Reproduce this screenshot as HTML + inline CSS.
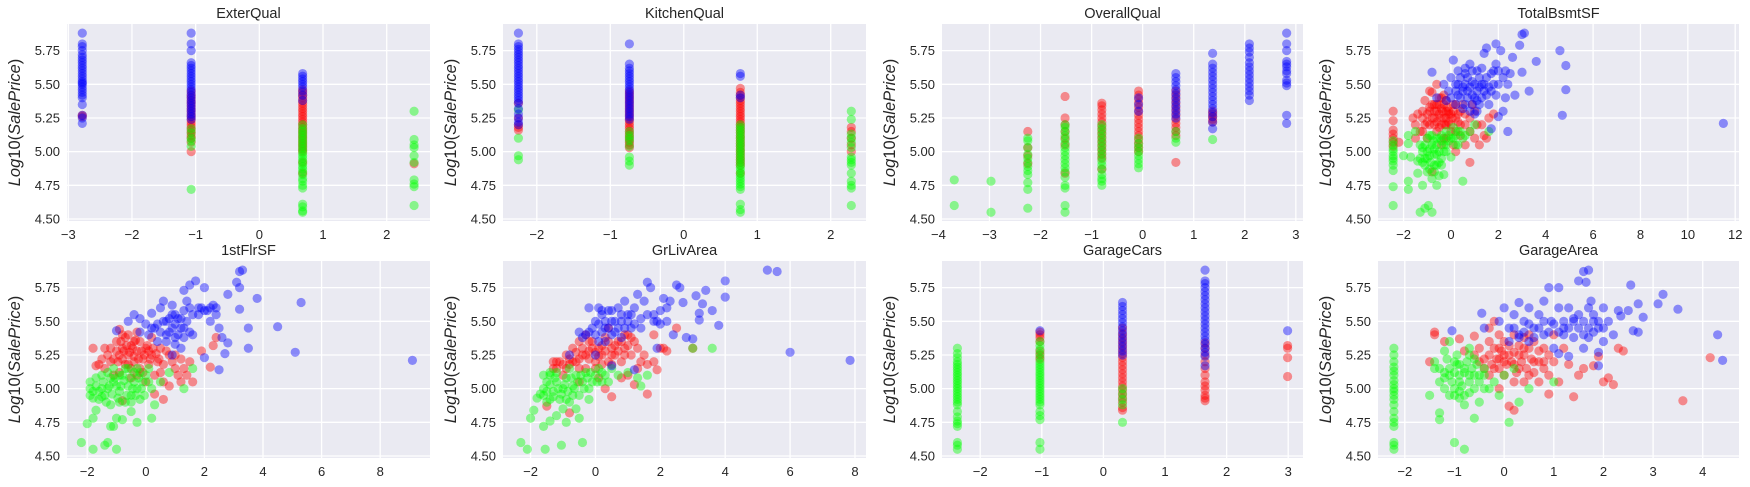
<!DOCTYPE html>
<html><head><meta charset="utf-8">
<style>
html,body{margin:0;padding:0;background:#fff;}
svg{display:block;font-family:"Liberation Sans","DejaVu Sans",sans-serif;}
</style></head>
<body>
<svg id="fig" width="1750" height="487" viewBox="0 0 1750 487" xmlns="http://www.w3.org/2000/svg"></svg>
<script>
// ---------- DATA ----------
const titles = ["ExterQual","KitchenQual","OverallQual","TotalBsmtSF","1stFlrSF","GrLivArea","GarageCars","GarageArea"];
const yTicks = [4.50,4.75,5.00,5.25,5.50,5.75];
const xTicks1 = [-3,-2,-1,0,1,2];
const xTicks2 = [-2,-1,0,1,2];
const xTicks3 = [-4,-3,-2,-1,0,1,2,3];
const xTicks4 = [-2,0,2,4,6,8,10,12];
const xTicks5 = [-2,0,2,4,6,8];
const xTicks6 = [-2,0,2,4,6,8];
const xTicks7 = [-2,-1,0,1,2,3];
const xTicks8 = [-2,-1,0,1,2,3,4];

// categorical panels: [x, [y values]]
const exterRed = [[-2.78,[5.26,5.27]],[-1.07,[5.00,5.07,5.10,5.12,5.14,5.16,5.18,5.20,5.22,5.24,5.26,5.28,5.30,5.32,5.34,5.36,5.38,5.40,5.42,5.45]],[0.68,[4.84,4.92,5.00,5.02,5.04,5.06,5.08,5.10,5.12,5.14,5.16,5.18,5.20,5.22,5.24,5.26,5.28,5.30,5.32,5.34,5.36,5.38,5.40,5.42,5.44,5.46]],[2.43,[4.91]]];
const exterGreen = [[-1.07,[4.72,5.04,5.08,5.10,5.14,5.17]],[0.68,[4.55,4.56,4.59,4.61,4.73,4.75,4.78,4.80,4.83,4.85,4.87,4.89,4.91,4.93,4.95,4.97,4.99,5.01,5.03,5.05,5.07,5.09,5.11,5.13,5.15,5.17,5.20]],[2.43,[4.60,4.74,4.76,4.79,4.92,4.97,5.03,5.05,5.09,5.30]]];
const exterBlue = [[-2.78,[5.21,5.25,5.27,5.35,5.40,5.42,5.44,5.46,5.48,5.50,5.51,5.52,5.54,5.56,5.58,5.60,5.62,5.64,5.66,5.68,5.70,5.72,5.75,5.78,5.80,5.88]],[-1.07,[5.24,5.26,5.28,5.30,5.32,5.34,5.36,5.38,5.40,5.42,5.44,5.46,5.48,5.50,5.52,5.54,5.56,5.58,5.60,5.62,5.64,5.66,5.75,5.80,5.88]],[0.68,[5.38,5.42,5.45,5.48,5.50,5.52,5.54,5.56,5.58]]];

const kitchenRed = [[-2.25,[5.16,5.18,5.20,5.25,5.36]],[-0.74,[5.03,5.05,5.07,5.09,5.11,5.13,5.15,5.17,5.19,5.21,5.23,5.25,5.27,5.29,5.31,5.33,5.35,5.37,5.39,5.41,5.43,5.45]],[0.77,[4.84,4.90,4.92,4.94,4.96,4.98,5.00,5.02,5.04,5.06,5.08,5.10,5.12,5.14,5.16,5.18,5.20,5.22,5.24,5.26,5.28,5.30,5.32,5.34,5.36,5.38,5.40,5.42,5.44,5.47]],[2.28,[5.00,5.05,5.10,5.15,5.18]]];
const kitchenGreen = [[-2.25,[4.94,4.97,5.10,5.31]],[-0.74,[4.90,4.93,4.96,5.04,5.08,5.10,5.12,5.15]],[0.77,[4.55,4.57,4.61,4.72,4.74,4.76,4.78,4.80,4.82,4.84,4.86,4.88,4.90,4.92,4.94,4.96,4.98,5.00,5.02,5.04,5.06,5.08,5.10,5.12,5.14,5.16,5.18,5.20]],[2.28,[4.60,4.73,4.75,4.78,4.84,4.90,4.92,4.94,4.96,5.03,5.07,5.10,5.13,5.24,5.30]]];
const kitchenBlue = [[-2.25,[5.20,5.22,5.25,5.28,5.32,5.36,5.38,5.40,5.42,5.44,5.46,5.48,5.50,5.52,5.54,5.56,5.58,5.60,5.62,5.64,5.66,5.68,5.70,5.72,5.74,5.76,5.78,5.80,5.88]],[-0.74,[5.24,5.26,5.28,5.30,5.32,5.34,5.36,5.38,5.40,5.42,5.44,5.46,5.48,5.50,5.52,5.54,5.56,5.58,5.60,5.62,5.65,5.80]],[0.77,[5.40,5.42,5.56,5.58]]];

const overallRed = [[-2.25,[4.91,4.97,5.03,5.15]],[-1.52,[4.84,5.05,5.10,5.15,5.20,5.25,5.41]],[-0.80,[4.87,4.95,4.98,5.01,5.04,5.07,5.10,5.13,5.16,5.19,5.22,5.25,5.28,5.31,5.34,5.36]],[-0.08,[5.00,5.03,5.06,5.09,5.12,5.15,5.18,5.21,5.24,5.27,5.30,5.33,5.36,5.39,5.42,5.45]],[0.65,[4.92,5.12,5.15,5.18,5.21,5.24,5.27,5.30,5.33,5.36,5.39,5.42,5.45]],[1.37,[5.22,5.24,5.26,5.28,5.30]]];
const overallGreen = [[-3.69,[4.60,4.79]],[-2.97,[4.55,4.78]],[-2.25,[4.58,4.72,4.77,4.83,4.86,4.89,4.92,4.95,4.98,5.03,5.08,5.10]],[-1.52,[4.55,4.60,4.73,4.75,4.81,4.85,4.88,4.91,4.94,4.97,5.00,5.03,5.06,5.09,5.12,5.15,5.18,5.20]],[-0.80,[4.75,4.78,4.80,4.83,4.87,4.90,4.93,4.96,4.99,5.02,5.05,5.08,5.11,5.14,5.17,5.20]],[-0.08,[4.88,4.91,4.94,4.97,5.00,5.03,5.06,5.10]],[0.65,[5.07,5.10,5.15]],[1.37,[5.09]]];
const overallBlue = [[-0.08,[5.30,5.35,5.40]],[0.65,[5.25,5.28,5.31,5.34,5.37,5.40,5.43,5.46,5.49,5.52,5.55,5.58]],[1.37,[5.17,5.22,5.26,5.29,5.32,5.35,5.38,5.41,5.44,5.47,5.50,5.53,5.56,5.59,5.62,5.65,5.73]],[2.09,[5.38,5.42,5.45,5.48,5.51,5.54,5.57,5.60,5.63,5.66,5.70,5.74,5.77,5.80]],[2.82,[5.21,5.27,5.49,5.51,5.53,5.58,5.60,5.63,5.65,5.67,5.75,5.80,5.88]]];

const carsRed = [[-1.03,[5.22,5.25,5.28,5.35,5.38,5.40,5.42]],[0.31,[4.84,4.86,4.90,4.93,4.96,4.99,5.02,5.05,5.08,5.11,5.14,5.17,5.20,5.23,5.26,5.29,5.32,5.35,5.38,5.41,5.45]],[1.65,[4.91,4.93,4.95,4.99,5.02,5.05,5.10,5.15,5.20,5.25,5.30,5.34]],[2.99,[5.09,5.23,5.30,5.32]]];
const carsGreen = [[-2.37,[4.55,4.58,4.60,4.72,4.74,4.76,4.79,4.83,4.88,4.90,4.92,4.94,4.96,4.98,5.00,5.02,5.04,5.06,5.08,5.10,5.12,5.14,5.16,5.18,5.20,5.23,5.26,5.30]],[-1.03,[4.55,4.60,4.77,4.80,4.83,4.88,4.90,4.92,4.94,4.96,4.98,5.00,5.02,5.04,5.06,5.08,5.10,5.12,5.14,5.16,5.18,5.20,5.23,5.26,5.29,5.32,5.35]],[0.31,[4.75,4.88,4.92,4.96,5.00]]];
const carsBlue = [[-1.03,[5.43]],[0.31,[5.25,5.28,5.31,5.34,5.37,5.40,5.43,5.46,5.49,5.52,5.55,5.58,5.61,5.64]],[1.65,[5.17,5.24,5.27,5.30,5.33,5.36,5.39,5.42,5.45,5.48,5.51,5.54,5.57,5.60,5.63,5.66,5.69,5.72,5.75,5.78,5.80,5.88]],[2.99,[5.43]]];

// scatter panels: [x, y]
const bsmtRed = [[-2.44,5.04],[-2.44,5.07],[-2.44,5.10],[-2.44,5.13],[-2.44,5.16],[-2.44,5.23],[-2.44,5.30],[-2.2,5.07],[-1.6,5.25],[-1.5,5.20],[-1.4,5.28],[-1.2,5.3],[-1.1,5.38],[-1.0,5.22],[-0.9,5.3],[-0.8,5.44],[-0.7,5.35],[-0.6,5.5],[-0.5,5.28],[-0.4,5.32],[-0.3,5.25],[-0.2,5.3],[-0.1,5.22],[0,5.28],[0.2,5.25],[0.4,5.3],[0.6,5.2],[0.8,5.15],[1.0,5.1],[1.2,5.05],[1.4,5.12],[1.6,5.25],[1.8,5.28],[0.8,4.92],[-0.8,4.85],[0.2,5.0],[-0.6,5.15],[-0.3,5.1],[0,5.15],[-1.0,5.1],[-1.3,5.15],[-0.9,5.2],[-0.5,5.4],[-0.2,5.38],[0.1,5.35],[0.4,5.12],[0.6,5.05],[1.5,5.1],[-0.7,5.25],[-0.4,5.2],[-0.1,5.3],[0.3,5.22],[-1.2,5.25],[-0.6,5.3],[-0.2,5.2],[1.1,5.2],[0.5,5.35]];
const bsmtRedCore = [[-1.0,5.28],[-0.9,5.33],[-0.8,5.25],[-0.7,5.3],[-0.6,5.22],[-0.5,5.35],[-0.45,5.25],[-0.4,5.4],[-0.35,5.3],[-0.3,5.35],[-0.25,5.2],[-0.2,5.25],[-0.15,5.33],[-0.1,5.28],[0,5.2],[0.05,5.25],[0.1,5.3],[0.2,5.35],[0.3,5.28],[0.4,5.2],[-0.6,5.35],[-0.5,5.18],[-0.7,5.2],[-0.8,5.35],[-0.3,5.42],[0.2,5.15],[0.6,5.28],[0.8,5.25],[1.0,5.3],[-1.1,5.2],[-1.2,5.15],[-1.5,5.1],[-0.2,5.1],[0.1,5.05],[-0.4,5.05],[1.3,5.2],[0.9,5.35],[-0.9,5.45]];
const bsmtGreen = [[-2.44,4.60],[-2.44,4.74],[-2.44,4.86],[-2.44,4.90],[-2.44,4.93],[-2.44,4.95],[-2.44,4.97],[-2.44,5.00],[-2.44,5.02],[-2.44,5.05],[-2.44,5.08],[-2,4.97],[-1.8,4.78],[-1.8,4.72],[-1.7,4.96],[-1.8,5.06],[-1.8,5.12],[-1.5,5.15],[-1.4,4.84],[-1.3,4.55],[-1.2,4.75],[-1.1,4.58],[-0.95,4.6],[-0.8,4.55],[-1.2,4.92],[-1.1,4.95],[-1.0,5.0],[-0.9,4.97],[-0.8,5.05],[-0.7,5.02],[-0.6,4.98],[-0.5,4.92],[-0.4,4.95],[-0.3,5.0],[-0.2,5.05],[-0.1,5.08],[0,5.1],[0.2,5.12],[0.4,5.15],[0.6,5.12],[1.6,5.15],[0.5,4.78],[-0.6,4.75],[-0.5,4.82],[-0.3,4.83],[-1.3,5.05],[-1.0,5.1],[-0.8,5.12],[-0.6,5.1],[-0.4,5.08],[-0.2,5.15],[0.1,5.18],[-1.4,4.93],[-1.2,5.03],[-0.9,4.87],[-0.7,4.9],[-0.4,5.12],[0.3,5.05],[0.0,4.96],[-0.8,4.8],[-1.0,4.85]];
const bsmtGreenCore = [[-1.2,5.0],[-1.1,5.05],[-1.0,4.95],[-0.9,5.02],[-0.85,4.92],[-0.75,5.08],[-0.7,4.98],[-0.6,5.05],[-0.5,5.0],[-0.45,5.1],[-0.3,5.05],[-0.2,5.0],[-0.1,5.12],[0.1,5.1],[0.2,5.05],[-0.6,4.9],[-0.9,5.12],[-1.1,4.9],[-0.4,4.9],[0.3,5.15],[0.5,5.1],[0.8,5.15],[1.0,5.2],[-0.7,4.85],[-1.3,4.95]];
const bsmtBlue = [[-0.8,5.59],[-0.6,5.4],[-0.3,5.5],[-0.1,5.45],[0.1,5.68],[0,5.55],[0.2,5.5],[0.3,5.42],[0.4,5.55],[0.5,5.48],[0.6,5.58],[0.7,5.45],[0.8,5.65],[0.9,5.52],[1.0,5.4],[1.1,5.6],[1.2,5.48],[1.3,5.62],[1.4,5.45],[1.5,5.55],[1.6,5.35],[1.7,5.58],[1.8,5.5],[1.9,5.42],[2.0,5.6],[2.1,5.75],[2.2,5.55],[2.3,5.4],[2.5,5.58],[2.6,5.7],[2.7,5.42],[2.9,5.79],[3.0,5.87],[3.1,5.88],[3.0,5.59],[3.3,5.45],[3.6,5.67],[4.6,5.75],[4.7,5.27],[4.85,5.64],[4.85,5.46],[11.5,5.21],[2.4,5.15],[1.9,5.8],[1.4,5.73],[1.5,5.77],[0.8,5.3],[1.0,5.28],[0.5,5.32],[1.2,5.35],[1.7,5.17],[2.0,5.26],[0.3,5.6],[0.6,5.35],[1.1,5.38],[2.2,5.3],[2.4,5.5],[0.9,5.6]];
const bsmtBlueCore = [[0.3,5.5],[0.5,5.45],[0.6,5.5],[0.7,5.4],[0.8,5.48],[0.9,5.42],[1.0,5.5],[1.1,5.45],[1.2,5.55],[1.3,5.4],[1.4,5.5],[1.5,5.42],[1.6,5.48],[1.7,5.45],[1.1,5.3],[0.4,5.4],[0.2,5.45],[0,5.4],[0.9,5.35],[1.3,5.5],[0.7,5.55],[1.8,5.6],[2.0,5.5],[2.3,5.6],[1.9,5.65],[0.6,5.62],[-0.2,5.38],[0.2,5.35]];

const flrRed = [[-1.8,5.3],[-1.7,5.17],[-1.4,5.3],[-1.2,5.2],[-1.0,5.35],[-0.9,5.44],[-0.8,5.3],[-0.7,5.38],[-0.6,5.25],[-0.5,5.32],[-0.4,5.2],[-0.3,5.28],[-0.2,5.35],[-0.1,5.22],[0,5.3],[0.1,5.18],[0.2,5.25],[0.4,5.2],[0.5,5.12],[0.7,5.28],[0.9,5.2],[1.1,5.1],[1.3,5.15],[1.5,5.2],[1.6,5.05],[1.9,5.28],[2.2,5.16],[2.3,5.32],[2.4,5.38],[0.3,4.96],[0.6,4.92],[-0.8,4.91],[0,5.05],[-0.5,5.15],[-1.1,5.1],[-0.3,5.1],[0.8,5.02],[1.2,5.05],[-0.6,5.4],[-0.2,5.15],[0.2,5.38],[-1.5,5.22],[-0.9,5.25],[0.5,5.3],[1.0,5.25],[-0.4,5.35],[0.1,5.28],[-0.7,5.18]];
const flrRedCore = [[-1.3,5.25],[-1.2,5.3],[-1.1,5.22],[-1.0,5.28],[-0.95,5.2],[-0.85,5.35],[-0.8,5.22],[-0.75,5.28],[-0.65,5.32],[-0.6,5.18],[-0.55,5.27],[-0.45,5.3],[-0.4,5.24],[-0.35,5.36],[-0.25,5.22],[-0.15,5.28],[-0.05,5.25],[0.05,5.32],[0.15,5.22],[0.25,5.3],[0.35,5.26],[0.45,5.22],[0.6,5.18],[0.8,5.25],[1.0,5.15],[1.2,5.22],[1.4,5.1],[-1.6,5.18],[-1.4,5.15],[-0.9,5.12],[-0.5,5.08],[-0.1,5.12],[0.3,5.1],[0.6,5.05],[-0.3,5.42],[-0.8,5.4]];
const flrGreen = [[-2.2,4.6],[-2.0,4.74],[-1.8,4.78],[-1.8,4.55],[-1.4,4.58],[-1.3,4.6],[-1.2,4.72],[-1.1,4.72],[-1.0,4.55],[-1.7,4.84],[-1.9,4.95],[-1.9,5.0],[-1.9,5.05],[-1.8,4.98],[-1.7,5.02],[-1.6,4.92],[-1.5,5.1],[-1.4,4.95],[-1.3,5.0],[-1.2,4.88],[-1.1,5.05],[-1.0,4.78],[-0.9,4.98],[-0.8,5.1],[-0.7,4.9],[-0.6,5.02],[-0.5,4.95],[-0.4,5.12],[-0.3,5.0],[-0.2,4.92],[-0.1,5.05],[0,5.1],[0.2,5.0],[0.3,4.88],[0.2,4.78],[0.5,5.05],[0.8,5.12],[1.3,5.0],[1.6,5.15],[-0.5,4.83],[-0.8,4.77],[-0.3,4.75],[-1.5,5.0],[-1.2,5.08],[-0.9,5.1],[-0.6,5.15],[-0.3,5.15],[0.1,5.15],[-1.0,5.02],[-0.4,5.05]];
const flrGreenCore = [[-1.8,4.93],[-1.7,5.08],[-1.6,4.98],[-1.5,4.94],[-1.45,5.05],[-1.35,4.9],[-1.25,5.02],[-1.15,4.96],[-1.05,5.08],[-0.95,4.93],[-0.85,5.02],[-0.75,5.06],[-0.65,4.95],[-0.55,5.08],[-0.45,5.0],[-0.35,4.95],[-0.25,5.08],[-0.15,5.0],[-0.05,4.95],[0.1,5.05],[-1.1,5.15],[-0.7,5.15],[-0.2,5.12],[-1.3,5.12],[-0.9,4.9],[-0.5,4.9]];
const flrBlue = [[-1.0,5.43],[-0.6,5.5],[-0.4,5.55],[-0.2,5.52],[0,5.48],[0.2,5.56],[0.3,5.45],[0.5,5.6],[0.6,5.65],[0.7,5.5],[0.8,5.42],[0.9,5.62],[1.0,5.38],[1.1,5.52],[1.2,5.45],[1.3,5.58],[1.4,5.65],[1.5,5.77],[1.3,5.73],[1.7,5.8],[1.8,5.55],[1.9,5.6],[2.0,5.75],[2.1,5.58],[2.2,5.5],[2.3,5.62],[2.5,5.45],[2.6,5.38],[2.7,5.26],[2.8,5.34],[2.8,5.7],[3.1,5.79],[3.2,5.59],[3.2,5.75],[3.2,5.87],[3.3,5.88],[3.5,5.45],[3.5,5.3],[3.8,5.67],[4.5,5.46],[5.1,5.27],[5.3,5.64],[9.1,5.21],[2.5,5.14],[2.0,5.23],[1.2,5.3],[0.9,5.25],[0.4,5.35],[1.6,5.4],[2.4,5.6],[0.1,5.4],[1.0,5.55]];
const flrBlueCore = [[0.4,5.48],[0.5,5.42],[0.6,5.5],[0.7,5.4],[0.8,5.52],[0.9,5.45],[1.0,5.48],[1.1,5.4],[1.2,5.52],[1.3,5.45],[1.4,5.5],[1.5,5.42],[1.6,5.55],[0.7,5.35],[1.0,5.33],[1.3,5.38],[-0.2,5.42],[0.2,5.45],[1.8,5.6],[2.0,5.58],[2.2,5.6],[2.4,5.55],[1.5,5.6],[0.9,5.55]];

const livRed = [[-1.5,4.87],[-1.3,5.15],[-1.2,5.2],[-1.0,5.1],[-0.9,5.25],[-0.8,5.18],[-0.7,5.3],[-0.6,5.2],[-0.5,5.35],[-0.4,5.25],[-0.3,5.15],[-0.2,5.28],[-0.1,5.35],[0,5.2],[0.1,5.3],[0.2,5.25],[0.3,5.38],[0.4,5.2],[0.5,5.3],[0.6,5.25],[0.7,5.35],[0.8,5.2],[0.9,5.3],[1.0,5.4],[1.1,5.25],[1.2,5.35],[1.3,5.15],[1.4,5.2],[1.5,5.25],[1.6,5.18],[1.8,5.2],[1.9,5.14],[2.0,5.3],[2.2,5.28],[2.5,5.45],[1.2,5.03],[1.6,4.96],[0.5,4.94],[0.3,5.0],[-0.8,4.82],[-0.5,5.05],[0.1,5.08],[0.8,5.08],[1.8,5.4],[2.1,5.3],[3.0,5.3],[-0.3,5.4],[0.4,5.45],[1.0,5.1]];
const livRedCore = [[-1.2,5.15],[-1.1,5.2],[-1.0,5.18],[-0.9,5.15],[-0.8,5.22],[-0.7,5.2],[-0.6,5.27],[-0.5,5.22],[-0.4,5.3],[-0.3,5.25],[-0.2,5.22],[-0.1,5.3],[0,5.27],[0.1,5.24],[0.2,5.32],[0.3,5.28],[0.4,5.35],[0.5,5.25],[0.6,5.32],[0.7,5.28],[0.8,5.35],[0.9,5.25],[1.0,5.32],[1.1,5.38],[0.2,5.18],[0.5,5.18],[-0.5,5.15],[-0.2,5.35],[0.9,5.4],[1.3,5.3],[-1.3,5.2],[0.0,5.15]];
const livGreen = [[-2.3,4.6],[-2.1,4.55],[-2.0,4.78],[-1.9,4.84],[-1.6,4.72],[-1.55,4.55],[-1.4,4.76],[-1.2,4.8],[-1.05,4.58],[-0.9,4.75],[-0.4,4.6],[-0.5,4.78],[-1.8,4.93],[-1.7,4.96],[-1.6,5.0],[-1.5,5.05],[-1.5,4.9],[-1.4,5.1],[-1.3,4.98],[-1.2,5.05],[-1.1,4.92],[-1.0,5.0],[-0.9,5.08],[-0.8,4.9],[-0.7,5.02],[-0.6,5.1],[-0.5,4.95],[-0.4,5.05],[-0.3,5.12],[-0.2,4.92],[-0.1,5.05],[0,5.1],[0.1,5.15],[0.2,5.05],[0.3,5.1],[0.5,5.15],[0.7,5.1],[1.0,5.12],[1.3,5.08],[1.4,5.02],[1.6,5.1],[3.0,5.3],[3.6,5.3],[-1.4,5.12],[-0.8,5.15],[-1.0,4.85],[-0.6,4.85],[-0.2,5.0],[0.4,5.05],[-1.6,5.1]];
const livGreenCore = [[-1.5,4.98],[-1.4,5.03],[-1.3,4.94],[-1.25,5.08],[-1.15,5.0],[-1.05,4.96],[-0.95,5.03],[-0.85,4.98],[-0.75,5.08],[-0.65,5.0],[-0.55,5.05],[-0.45,5.1],[-0.35,5.0],[-0.25,5.08],[-0.15,5.12],[0.05,5.05],[0.2,5.12],[-1.2,5.12],[-0.9,4.92],[-0.7,4.95],[-1.6,4.95],[-1.4,4.92]];
const livBlue = [[-0.2,5.6],[-0.3,5.4],[-0.1,5.45],[0,5.5],[0.1,5.6],[0.2,5.55],[0.3,5.45],[0.4,5.58],[0.5,5.5],[0.6,5.42],[0.7,5.6],[0.8,5.5],[0.9,5.65],[1.0,5.55],[1.1,5.45],[1.2,5.6],[1.3,5.7],[1.4,5.52],[1.5,5.65],[1.6,5.79],[1.7,5.75],[1.8,5.55],[1.9,5.5],[2.0,5.48],[2.1,5.67],[2.2,5.6],[2.3,5.65],[2.4,5.4],[2.5,5.77],[2.6,5.75],[2.7,5.64],[2.8,5.38],[3.0,5.37],[3.1,5.69],[3.2,5.56],[3.2,5.51],[3.3,5.63],[3.4,5.73],[3.6,5.58],[3.8,5.47],[4.0,5.68],[4.0,5.8],[5.3,5.88],[5.6,5.87],[6.0,5.27],[7.85,5.21],[1.2,5.14],[0.5,5.17],[1.9,5.3],[0,5.25],[-0.8,5.25],[0.8,5.38],[0.3,5.35]];
const livBlueCore = [[-0.4,5.38],[-0.2,5.42],[0,5.4],[0.1,5.48],[0.2,5.42],[0.3,5.5],[0.4,5.45],[0.5,5.4],[0.6,5.5],[0.7,5.45],[0.8,5.55],[0.9,5.45],[1.0,5.5],[1.1,5.55],[1.2,5.48],[1.4,5.45],[1.6,5.55],[1.8,5.5],[0.2,5.58],[0.5,5.58],[0.1,5.35],[-0.5,5.42],[2.0,5.58],[2.2,5.5]];

const garRed = [[-1.4,5.4],[-1.4,5.42],[-1.5,5.2],[-1.2,5.35],[-0.9,5.37],[-0.8,5.28],[-0.6,5.39],[-0.5,5.3],[-0.4,5.22],[-0.3,5.45],[-0.2,5.5],[-0.1,5.3],[0,5.2],[0.1,5.25],[0.2,5.4],[0.3,5.15],[0.4,5.3],[0.5,5.1],[0.6,5.35],[0.7,5.2],[0.8,5.3],[0.9,5.1],[1.0,5.4],[1.1,5.05],[1.2,5.3],[1.3,5.18],[1.5,5.1],[1.6,5.15],[1.8,5.17],[1.9,5.24],[2.0,5.05],[2.1,5.08],[2.2,5.03],[2.3,5.3],[2.4,5.28],[3.6,4.91],[4.15,5.23],[1.4,4.94],[0.9,4.96],[0.2,4.84],[0.1,4.87],[-0.1,5.0],[0.4,5.05],[-0.2,5.15],[0,5.35],[0.3,5.25],[-0.3,5.1],[0.6,5.2],[0.2,5.18],[-0.1,5.22],[0.5,5.4],[0.8,5.2]];
const garRedCore = [[-0.4,5.15],[-0.3,5.25],[-0.25,5.18],[-0.2,5.3],[-0.15,5.22],[-0.1,5.15],[-0.05,5.28],[0,5.25],[0.05,5.18],[0.1,5.32],[0.15,5.2],[0.2,5.27],[0.25,5.12],[0.3,5.32],[0.35,5.2],[0.4,5.25],[0.45,5.15],[0.5,5.3],[0.55,5.22],[0.6,5.12],[0.7,5.28],[0.8,5.15],[0.9,5.25],[-0.5,5.2],[-0.3,5.35],[0,5.1],[0.2,5.05],[0.4,5.38],[-0.1,5.4],[0.7,5.05],[1.0,5.2],[-0.6,5.25]];
const garGreen = [[-2.22,4.55],[-2.22,4.58],[-2.22,4.6],[-2.22,4.72],[-2.22,4.75],[-2.22,4.78],[-2.22,4.83],[-2.22,4.88],[-2.22,4.92],[-2.22,4.95],[-2.22,4.98],[-2.22,5.0],[-2.22,5.03],[-2.22,5.06],[-2.22,5.1],[-2.22,5.13],[-2.22,5.16],[-2.22,5.2],[-2.22,5.25],[-2.22,5.3],[-1.5,4.95],[-1.4,5.15],[-1.3,4.82],[-1.3,4.77],[-1.2,5.28],[-1.1,5.35],[-1.2,5.0],[-1.1,5.1],[-1.0,4.6],[-1.0,5.2],[-0.9,5.05],[-0.9,4.93],[-0.8,4.55],[-0.8,5.15],[-0.7,5.1],[-0.7,5.3],[-0.6,4.78],[-0.6,5.0],[-0.5,4.9],[-0.5,5.1],[-0.4,5.15],[-0.3,5.0],[-0.2,5.05],[-0.1,4.95],[0,5.1],[0.1,4.75],[0.2,5.15],[0.3,4.9],[0.5,5.0],[1.0,5.05],[-1.4,5.2],[-1.2,5.12],[-1.0,5.0],[-0.8,4.88],[-0.6,5.22],[-1.1,4.95],[-0.9,5.18],[-0.4,5.0],[-0.7,4.97],[-1.3,5.05]];
const garGreenCore = [[-1.2,5.08],[-1.1,5.15],[-1.05,5.05],[-1.0,5.12],[-0.95,5.18],[-0.9,5.1],[-0.85,5.02],[-0.8,5.12],[-0.75,5.2],[-0.7,5.05],[-0.65,5.15],[-0.6,5.1],[-0.55,5.18],[-0.5,5.05],[-0.9,4.98],[-1.0,4.95],[-0.8,4.95],[-1.15,5.22],[-0.7,5.25],[-0.4,5.1],[-1.3,5.15],[-0.95,5.25]];
const garBlue = [[-1.05,5.43],[-0.45,5.56],[-0.4,5.45],[-0.1,5.5],[0,5.6],[0.1,5.45],[0.2,5.55],[0.3,5.64],[0.4,5.5],[0.5,5.6],[0.6,5.45],[0.7,5.55],[0.8,5.65],[0.9,5.75],[0.95,5.5],[1.1,5.6],[1.1,5.75],[1.2,5.45],[1.3,5.6],[1.4,5.5],[1.5,5.55],[1.5,5.8],[1.6,5.87],[1.65,5.79],[1.7,5.88],[1.75,5.65],[1.8,5.5],[1.9,5.45],[2.0,5.6],[2.1,5.5],[2.2,5.4],[2.3,5.58],[2.35,5.54],[2.5,5.58],[2.55,5.77],[2.6,5.43],[2.7,5.63],[2.7,5.42],[2.8,5.53],[3.1,5.63],[3.2,5.7],[3.5,5.59],[4.3,5.4],[4.4,5.21],[1.9,5.17],[1.9,5.27],[1.3,5.24],[1.1,5.26],[1.4,5.38],[1.7,5.38],[1.2,5.4],[0.3,5.4],[1.0,5.3],[0.8,5.4],[1.6,5.3],[2.0,5.35]];
const garBlueCore = [[0.2,5.45],[0.3,5.38],[0.4,5.42],[0.5,5.48],[0.6,5.38],[0.7,5.45],[0.8,5.5],[0.9,5.42],[1.0,5.48],[1.1,5.42],[1.2,5.5],[1.3,5.45],[1.4,5.52],[1.5,5.45],[1.6,5.5],[1.7,5.45],[1.8,5.55],[1.9,5.5],[1.6,5.4],[1.8,5.42],[0.5,5.35],[0.1,5.35],[1.7,5.6],[2.0,5.45]];

// ---------- LAYOUT ----------
const NS = "http://www.w3.org/2000/svg";
const svg = document.getElementById('fig');
const yMin = 4.485, yMax = 5.948;
const panels = [
  {left:67,  top:24,  w:363, h:197, xMin:-3.02, xMax:2.68,  ticks:xTicks1, cat:true,  red:exterRed, green:exterGreen, blue:exterBlue},
  {left:503, top:24,  w:363, h:197, xMin:-2.46, xMax:2.48,  ticks:xTicks2, cat:true, red:kitchenRed, green:kitchenGreen, blue:kitchenBlue},
  {left:942, top:24,  w:361, h:197, xMin:-3.93, xMax:3.14,  ticks:xTicks3, cat:true, red:overallRed, green:overallGreen, blue:overallBlue},
  {left:1378,top:24,  w:361, h:197, xMin:-3.08, xMax:12.16, ticks:xTicks4, cat:false, red:bsmtRed.concat(bsmtRedCore), green:bsmtGreen.concat(bsmtGreenCore), blue:bsmtBlue.concat(bsmtBlueCore)},
  {left:67,  top:261, w:363, h:197, xMin:-2.69, xMax:9.70,  ticks:xTicks5, cat:false, red:flrRed.concat(flrRedCore), green:flrGreen.concat(flrGreenCore), blue:flrBlue.concat(flrBlueCore)},
  {left:503, top:261, w:363, h:197, xMin:-2.85, xMax:8.34,  ticks:xTicks6, cat:false, red:livRed.concat(livRedCore), green:livGreen.concat(livGreenCore), blue:livBlue.concat(livBlueCore)},
  {left:942, top:261, w:361, h:197, xMin:-2.62, xMax:3.24,  ticks:xTicks7, cat:true, red:carsRed, green:carsGreen, blue:carsBlue},
  {left:1378,top:261, w:361, h:197, xMin:-2.54, xMax:4.73,  ticks:xTicks8, cat:false, red:garRed.concat(garRedCore), green:garGreen.concat(garGreenCore), blue:garBlue.concat(garBlueCore)}
];
const colors = {red:'#ff0000', green:'#00ff00', blue:'#0000ff'};

function mk(tag, attrs, parent){
  const e = document.createElementNS(NS, tag);
  for (const k in attrs) e.setAttribute(k, attrs[k]);
  (parent||svg).appendChild(e);
  return e;
}
function fmtX(v){ return v < 0 ? '\u2212' + Math.abs(v) : String(v); }

panels.forEach((p, i) => {
  const xs = v => p.left + (v - p.xMin) / (p.xMax - p.xMin) * p.w;
  const ys = v => p.top + (yMax - v) / (yMax - yMin) * p.h;
  const g = mk('g', {});
  
  

  const bg = mk('rect', {x:p.left, y:p.top, width:p.w, height:p.h, fill:'#eaeaf2'}, g);
  
  

  yTicks.forEach(t => {
    const y = ys(t);
    const ln = mk('line', {x1:p.left, x2:p.left+p.w, y1:y, y2:y, stroke:'#fff', 'stroke-width':1.3}, g);
    
    
    const tx = mk('text', {x:p.left-7, y:y+4.5, 'text-anchor':'end', 'font-size':13, fill:'#262626'}, g);
    tx.textContent = t.toFixed(2);
    
    
  });
  p.ticks.forEach(t => {
    const x = xs(t);
    const ln = mk('line', {x1:x, x2:x, y1:p.top, y2:p.top+p.h, stroke:'#fff', 'stroke-width':1.3}, g);
    
    
    const tx = mk('text', {x:x, y:p.top+p.h+18, 'text-anchor':'middle', 'font-size':13, fill:'#262626'}, g);
    tx.textContent = fmtX(t);
    
    
  });

  const ti = mk('text', {x:p.left+p.w/2, y:p.top-6, 'text-anchor':'middle', 'font-size':14.5, fill:'#262626'}, g);
  ti.textContent = titles[i];
  
  

  const cx = p.left - 47, cy = p.top + p.h/2;
  const yl = mk('text', {x:cx, y:cy, 'text-anchor':'middle', 'font-size':16.5, fill:'#262626', transform:'rotate(-90 '+cx+' '+cy+')'}, g);
  yl.innerHTML = '<tspan font-style="italic">Log</tspan>10(<tspan font-style="italic">SalePrice</tspan>)';
  
  

  const clip = mk('clipPath', {id:'clip'+i}, g);
  mk('rect', {x:p.left, y:p.top, width:p.w, height:p.h}, clip);
  const pg = mk('g', {'clip-path':'url(#clip'+i+')'}, g);
  ['red','green','blue'].forEach(c => {
    const sg = mk('g', {fill:colors[c], 'fill-opacity':0.42}, pg);
    
    
    const pts = [];
    if (p.cat) p[c].forEach(col => col[1].forEach(v => pts.push([col[0], v])));
    else p[c].forEach(pt => pts.push(pt));
    pts.forEach(pt => {
      const dot = mk('circle', {cx:xs(pt[0]), cy:ys(pt[1]), r:4.6}, sg);
      
      
    });
  });
});
</script>
</body></html>
